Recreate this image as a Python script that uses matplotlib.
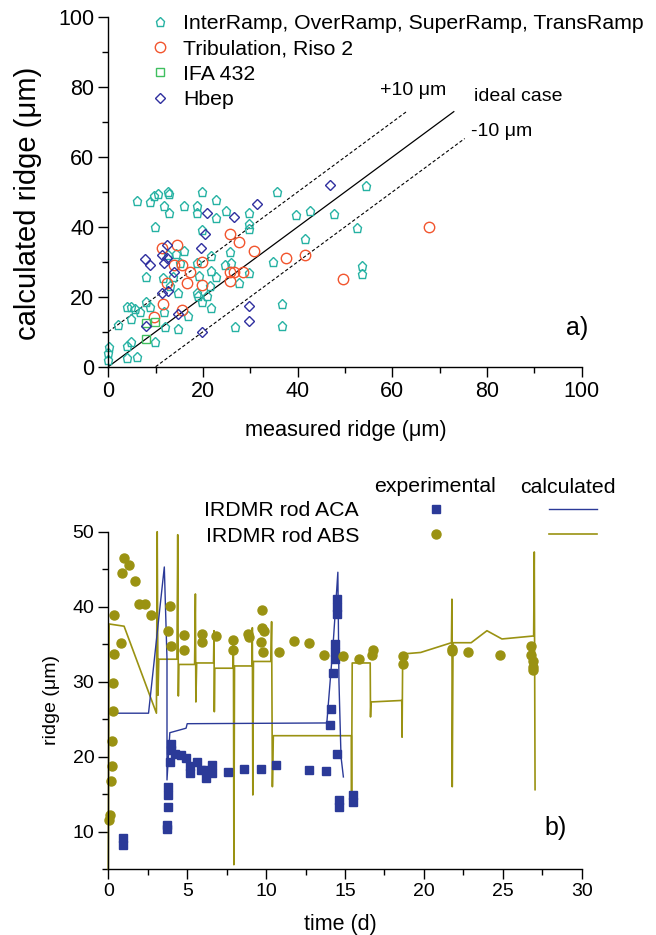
import numpy as np
import matplotlib.pyplot as plt
from matplotlib.lines import Line2D
from matplotlib.ticker import MultipleLocator

plt.rcParams['font.family'] = ['Liberation Sans', 'DejaVu Sans']

# ---- panel a) data ---------------------------------------------------------
ramp_x = [6.0, 8.8, 9.7, 10.6, 12.7, 12.9, 11.8, 12.8, 15.9, 19.7, 18.7, 18.8,
          22.8, 22.8, 24.9, 29.7, 29.7, 29.7, 35.6, 39.7, 42.6, 47.6, 54.5, 52.5,
          41.6, 9.9, 19.9, 14.4, 15.9, 21.8, 25.7, 34.7, 53.6, 53.6, 7.9, 11.6,
          13.7, 18.7, 19.2, 21.8, 22.8, 24.7, 25.9, 29.8, 27.7, 21.5, 14.8, 18.7,
          19.0, 20.8, 19.9, 21.8, 16.8, 11.8, 8.8, 7.9, 3.9, 4.9, 5.6, 6.8, 4.9,
          2.0, 11.9, 14.8, 26.8, 36.6, 36.6, 9.9, 3.9, 4.9, 0.2, 3.9, 6.0, 0.0,
          12.7, 15.2, 13.0, 0.0]
ramp_y = [47.3, 47.1, 48.9, 49.4, 49.9, 49.4, 46.1, 44.0, 45.9, 49.9, 46.1, 44.0,
          47.6, 42.5, 44.7, 44.0, 40.9, 39.4, 49.9, 43.5, 44.7, 43.8, 51.6, 39.6,
          36.5, 39.9, 39.0, 32.3, 33.0, 31.7, 32.7, 30.0, 28.9, 26.6, 25.6, 25.3,
          25.8, 29.6, 26.0, 27.5, 25.6, 29.2, 29.6, 26.8, 23.9, 23.1, 21.0, 21.0,
          20.3, 20.3, 18.5, 16.7, 14.5, 15.8, 17.2, 18.6, 17.2, 17.2, 16.4, 15.8, 13.7,
          12.0, 11.5, 10.8, 11.5, 11.7, 18.0, 7.2, 6.0, 7.0, 5.5, 2.4, 2.7, 1.9,
          32.0, 29.6, 23.1, 3.8]

trib_x = [25.7, 27.7, 30.7, 14.6, 11.3, 13.9, 15.5, 17.3, 19.7, 12.3, 16.7, 19.7,
          25.7, 26.6, 28.5, 25.7, 37.6, 41.6, 49.5, 67.8, 11.5, 15.5, 9.7]
trib_y = [38.0, 35.7, 33.0, 34.7, 33.9, 29.0, 29.2, 27.1, 30.1, 23.9, 23.9, 23.4,
          27.1, 27.1, 27.1, 24.4, 31.1, 32.0, 25.0, 40.0, 18.0, 16.1, 14.1]

ifa_x = [7.9, 9.9, 7.9]
ifa_y = [12.4, 12.9, 7.9]

hbep_x = [46.9, 31.5, 20.8, 26.6, 20.4, 19.5, 12.3, 11.3, 12.3, 7.8, 8.8, 11.8,
          13.9, 11.3, 12.7, 14.8, 7.9, 29.7, 29.7, 19.9]
hbep_y = [51.9, 46.7, 44.0, 42.8, 38.0, 33.9, 34.9, 32.0, 31.1, 30.9, 29.0, 29.6,
          27.0, 21.0, 21.8, 15.0, 11.7, 17.5, 13.2, 10.0]

ideal_x = [0, 73]
plus_x = [0, 63]
minus_x = [10, 75.3]

# ---- panel b) data ---------------------------------------------------------
aca_t = [0.9, 0.9, 3.7, 3.7, 3.76, 3.8, 3.8, 3.89, 3.95, 3.95, 4.2, 4.6, 4.9,
         5.2, 5.2, 5.6, 5.9, 6.2, 6.2, 6.6, 6.6, 7.6, 8.6, 9.7, 10.6, 12.7, 13.8,
         14.06, 14.1, 14.27, 14.5, 14.5, 14.5, 14.4, 14.4, 14.4, 14.5, 14.6, 14.6,
         15.5, 15.5]
aca_y = [9.2, 8.2, 10.9, 10.3, 13.3, 15.9, 14.9, 19.3, 21.7, 20.9, 20.4, 20.2,
         19.8, 18.8, 17.8, 19.3, 18.2, 17.1, 18.2, 18.9, 17.8, 18.0, 18.3, 18.4,
         18.9, 18.2, 18.1, 24.2, 26.4, 31.2, 41.0, 40.0, 39.0, 35.0, 34.0, 33.0,
         20.4, 14.2, 13.3, 14.9, 14.0]

abs_t = [0.38, 0.38, 0.79, 0.88, 0.97, 1.33, 1.69, 1.96, 2.3, 2.71, 3.93, 3.77,
         4.0, 4.79, 4.79, 5.92, 5.92, 6.83, 7.89, 7.89, 8.86, 8.91, 9.7, 9.77,
         9.77, 9.84, 9.81, 10.85, 11.8, 12.75, 13.7, 14.9, 15.9, 16.8, 16.7, 18.7,
         18.7, 21.8, 21.8, 22.8, 24.8, 26.8, 26.8, 26.9, 26.9, 26.9,
         0.27, 0.32, 0.21, 0.25, 0.17, 0.1, 0.06]
abs_y = [38.9, 33.7, 35.1, 44.5, 46.5, 45.6, 43.4, 40.4, 40.4, 38.9, 40.1, 36.8,
         34.8, 36.2, 34.2, 36.4, 35.3, 36.1, 35.6, 34.2, 36.4, 36.0, 35.3, 39.6,
         37.1, 36.8, 34.0, 33.9, 35.4, 35.1, 33.5, 33.4, 33.0, 34.2, 33.5, 33.4,
         32.3, 34.4, 34.1, 33.9, 33.6, 34.7, 33.6, 32.7, 31.9, 31.5,
         29.8, 26.1, 22.1, 18.8, 16.8, 12.2, 11.6]

aca_calc_t = [0.0, 2.55, 3.55, 3.72, 3.72, 3.9, 4.93, 5.0, 13.85, 14.25, 14.55,
              14.62, 14.75, 14.9]
aca_calc_y = [25.8, 25.8, 45.3, 33.0, 16.9, 23.2, 23.8, 24.4, 24.5, 35.0, 44.6,
              30.0, 20.0, 17.3]

abs_calc_t = [0.0, 0.05, 1.0, 3.05, 3.1, 3.15, 3.2, 4.35, 4.4, 4.44, 4.47, 5.47,
              5.52, 5.55, 5.6, 6.67, 6.7, 6.72, 6.75, 7.9, 7.93, 7.96, 8.0, 9.1,
              9.13, 9.16, 9.2, 10.3, 10.35, 10.4, 10.46, 15.4, 15.42, 15.46, 16.6,
              16.62, 16.65, 18.6, 18.62, 18.66, 19.8, 21.75, 21.78, 21.8, 21.85,
              23.0, 24.0, 24.95, 26.96, 27.0, 27.05]
abs_calc_y = [5.0, 37.7, 37.4, 25.8, 50.0, 28.2, 33.0, 33.0, 49.6, 28.1, 32.3, 32.3,
              41.7, 27.3, 32.5, 32.5, 36.8, 26.0, 31.8, 31.8, 35.9, 5.6, 32.1, 32.1,
              37.2, 14.9, 32.7, 32.7, 38.0, 16.0, 22.8, 22.8, 15.3, 32.5, 32.5,
              25.3, 27.3, 27.5, 22.6, 33.7, 33.9, 35.2, 41.0, 16.0, 35.2,
              35.2, 36.8, 35.7, 36.1, 47.3, 15.6]

c_ramp = '#26b2a3'
c_trib = '#f2552e'
c_ifa = '#3fbf5f'
c_hbep = '#2f2f9f'
c_aca = '#2b3a98'
c_abs = '#9a9212'

fig = plt.figure(figsize=(6.56, 9.35), dpi=100)

# ===================== panel a) ===========================================
ax1 = fig.add_axes([0.1651, 0.6078, 0.7215, 0.3737])
ax1.plot(ideal_x, ideal_x, color='black', lw=0.9)
ax1.plot(plus_x, [v + 10 for v in plus_x], color='black', lw=0.8, ls=(0, (3, 2)))
ax1.plot(minus_x, [v - 10 for v in minus_x], color='black', lw=0.8, ls=(0, (3, 2)))

h1, = ax1.plot(ramp_x, ramp_y, ls='none', marker='p', ms=6.5, mfc='none',
               mec=c_ramp, mew=1.0, clip_on=False,
               label='InterRamp, OverRamp, SuperRamp, TransRamp')
h2, = ax1.plot(trib_x, trib_y, ls='none', marker='o', ms=7.5, mfc='none',
               mec=c_trib, mew=1.0, clip_on=False, label='Tribulation, Riso 2')
h3, = ax1.plot(ifa_x, ifa_y, ls='none', marker='s', ms=6, mfc='none',
               mec=c_ifa, mew=1.0, clip_on=False, label='IFA 432')
h4, = ax1.plot(hbep_x, hbep_y, ls='none', marker='D', ms=5.2, mfc='none',
               mec=c_hbep, mew=1.0, clip_on=False, label='Hbep')

ax1.set_xlim(0, 100)
ax1.set_ylim(0, 100)
ax1.xaxis.set_major_locator(MultipleLocator(20))
ax1.xaxis.set_minor_locator(MultipleLocator(10))
ax1.yaxis.set_major_locator(MultipleLocator(20))
ax1.yaxis.set_minor_locator(MultipleLocator(10))
ax1.tick_params(which='major', direction='out', length=7, width=1, labelsize=15.5, pad=3)
ax1.tick_params(which='minor', direction='out', length=4, width=1)
for s in ['top', 'right']:
    ax1.spines[s].set_visible(False)
for s in ['left', 'bottom']:
    ax1.spines[s].set_linewidth(1.0)

ax1.set_xlabel('measured ridge (μm)', fontsize=15.7, va='center')
ax1.xaxis.set_label_coords(0.501, -0.182)
ax1.set_ylabel('calculated ridge (μm)', fontsize=21, va='center')
ax1.yaxis.set_label_coords(-0.170, 0.467)

ax1.legend(handles=[h1, h2, h3, h4], loc='upper left',
           bbox_to_anchor=(0.087, 1.009), frameon=False, fontsize=15.3,
           handlelength=1.0, handletextpad=0.6, labelspacing=0.3,
           borderpad=0, borderaxespad=0)

ax1.text(0.644, 0.79, '+10 μm', transform=ax1.transAxes, fontsize=14,
         ha='center', va='center')
ax1.text(0.866, 0.774, 'ideal case', transform=ax1.transAxes, fontsize=14,
         ha='center', va='center')
ax1.text(0.832, 0.674, '-10 μm', transform=ax1.transAxes, fontsize=14,
         ha='center', va='center')
ax1.text(0.99, 0.111, 'a)', transform=ax1.transAxes, fontsize=18,
         ha='center', va='center')

# ===================== panel b) ===========================================
ax2 = fig.add_axes([0.1651, 0.0704, 0.7215, 0.3609])
ax2.plot(abs_calc_t, abs_calc_y, color=c_abs, lw=1.2, clip_on=False)
ax2.plot(aca_calc_t, aca_calc_y, color=c_aca, lw=1.0)
ax2.plot(aca_t, aca_y, ls='none', marker='s', ms=6, color=c_aca, mec=c_aca)
ax2.plot(abs_t, abs_y, ls='none', marker='o', ms=6.5, color=c_abs, mec=c_abs,
         clip_on=False)

ax2.set_xlim(0, 30)
ax2.set_ylim(5, 50)
ax2.xaxis.set_major_locator(MultipleLocator(5))
ax2.xaxis.set_minor_locator(MultipleLocator(2.5))
ax2.yaxis.set_major_locator(MultipleLocator(10))
ax2.yaxis.set_minor_locator(MultipleLocator(5))
ax2.set_yticks([10, 20, 30, 40, 50])
ax2.tick_params(which='major', direction='out', length=7, width=1, labelsize=14, pad=3)
ax2.tick_params(which='minor', direction='out', length=4, width=1)
for s in ['top', 'right']:
    ax2.spines[s].set_visible(False)
for s in ['left', 'bottom']:
    ax2.spines[s].set_linewidth(1.0)

ax2.set_xlabel('time (d)', fontsize=15.5, va='center')
ax2.xaxis.set_label_coords(0.49, -0.165)
ax2.set_ylabel('ridge (μm)', fontsize=14, va='center')
ax2.yaxis.set_label_coords(-0.12, 0.5)

sq = Line2D([], [], ls='none', marker='s', ms=6, color=c_aca)
ci = Line2D([], [], ls='none', marker='o', ms=6.5, color=c_abs)
leg2 = ax2.legend(handles=[sq, ci], labels=['IRDMR rod ACA', 'IRDMR rod ABS'],
                  loc='upper left', bbox_to_anchor=(0.203, 1.090), frameon=False,
                  fontsize=15.3, markerfirst=False, handlelength=1.0,
                  handletextpad=3.1, labelspacing=0.3, borderpad=0, borderaxespad=0)
ax2.add_artist(leg2)
la = Line2D([], [], color=c_aca, lw=1.0)
lb = Line2D([], [], color=c_abs, lw=1.2)
ax2.legend(handles=[la, lb], labels=['', ''], loc='upper left',
           bbox_to_anchor=(0.931, 1.090), frameon=False, fontsize=15.3,
           handlelength=2.25, handletextpad=0, labelspacing=0.3,
           borderpad=0, borderaxespad=0)

ax2.text(0.691, 1.133, 'experimental', transform=ax2.transAxes, fontsize=15.3,
         ha='center', va='center')
ax2.text(0.971, 1.132, 'calculated', transform=ax2.transAxes, fontsize=15.3,
         ha='center', va='center')
ax2.text(0.944, 0.122, 'b)', transform=ax2.transAxes, fontsize=18,
         ha='center', va='center')

fig.savefig('out.png', dpi=100)
